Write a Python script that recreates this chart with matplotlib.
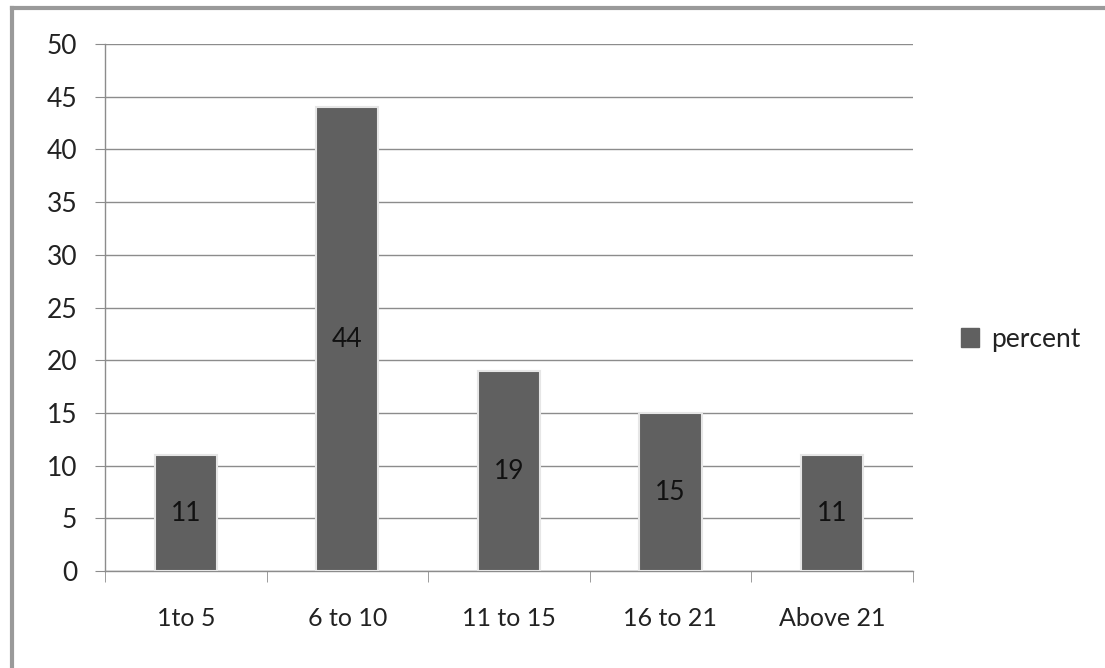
import matplotlib
matplotlib.use("Agg")
import matplotlib.pyplot as plt
from matplotlib.lines import Line2D

categories = ["1to 5", "6 to 10", "11 to 15", "16 to 21", "Above 21"]
percent = [11, 44, 19, 15, 11]
y_ticks = [0, 5, 10, 15, 20, 25, 30, 35, 40, 45, 50]

plt.rcParams["font.family"] = ["Lato", "DejaVu Sans"]

fig = plt.figure(figsize=(11.05, 6.68), dpi=100)
ax = fig.add_axes([0.095, 0.145, 0.731, 0.789])

x = list(range(len(categories)))
bars = ax.bar(x, percent, width=0.385, color="#606060", edgecolor="#e6e6e6",
              linewidth=1.5, zorder=3)
for b, v in zip(bars, percent):
    ax.text(b.get_x() + b.get_width() / 2, v / 2, str(v), ha="center",
            va="center", fontsize=19, color="#111111", zorder=4)

ax.set_xlim(-0.5, len(categories) - 0.5)
ax.set_ylim(0, 50)
ax.set_yticks(y_ticks)
ax.yaxis.grid(True, color="#8c8c8c", linewidth=1, zorder=0)
ax.set_axisbelow(True)

ax.set_xticks(x)
ax.set_xticklabels(categories, fontsize=18, color="#222222")
ax.set_xticks([i - 0.5 for i in range(len(categories) + 1)], minor=True)
ax.tick_params(axis="x", which="major", length=0, pad=26)
ax.tick_params(axis="x", which="minor", length=8, color="#8c8c8c", direction="out")
ax.tick_params(axis="y", length=7, color="#8c8c8c", labelsize=19,
               labelcolor="#222222", pad=13)

for s in ["top", "right"]:
    ax.spines[s].set_visible(False)
for s in ["left", "bottom"]:
    ax.spines[s].set_color("#8c8c8c")
    ax.spines[s].set_linewidth(1)

handle = plt.Rectangle((0, 0), 1, 1, color="#606060")
leg = ax.legend([handle], ["percent"], loc="center left",
                bbox_to_anchor=(1.03, 0.44), frameon=False, fontsize=19,
                handlelength=0.7, handleheight=0.7, handletextpad=0.45)
for t in leg.get_texts():
    t.set_color("#222222")

# outer chart frame (left and top edges only, as in the source image)
fig.add_artist(Line2D([0.011, 0.011], [0.0, 0.988], transform=fig.transFigure,
                      color="#9a9a9a", linewidth=3))
fig.add_artist(Line2D([0.011, 1.0], [0.988, 0.988], transform=fig.transFigure,
                      color="#9a9a9a", linewidth=3))

fig.savefig("out.png", dpi=100, facecolor="white")
